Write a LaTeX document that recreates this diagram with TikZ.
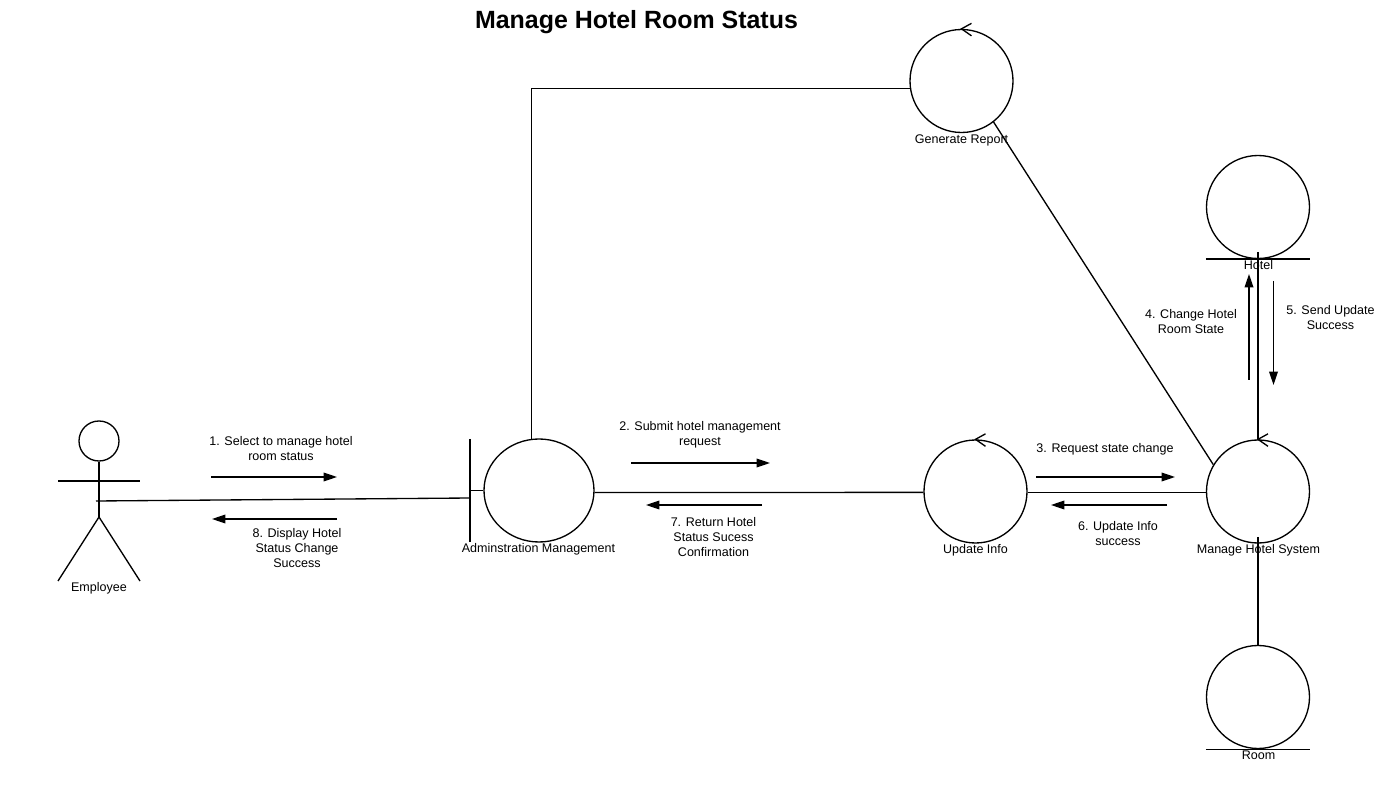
\documentclass[tikz,border=0pt]{standalone}
\usepackage{fontspec}
\setmainfont{Liberation Sans}
\usetikzlibrary{arrows.meta,shapes.geometric}
\def\loopmark#1{\draw ([shift={(10,-5.5)}]#1.north) -- (#1.north) -- ([shift={(10,7)}]#1.north);}
\tikzset{
  lifeline/.style={circle, draw, line width=1pt, minimum size=77.25pt, inner sep=0pt},
  caption/.style={font=\fontsize{9.4pt}{11.25pt}\selectfont, align=center, inner sep=0pt},
  msgarrow/.style={line width=1pt, -{Triangle[length=10pt,width=6.5pt]}},
}

\begin{document}
\begin{tikzpicture}[x=0.75pt, y=-0.75pt, line width=1pt]
                  \useasboundingbox (0,0) rectangle (1386,791);
                  \node[font=\bfseries\fontsize{18.7pt}{23pt}\selectfont, inner sep=0pt] (title) at (636.5,22) {Manage Hotel Room Status};

                  % robustness objects
                  \node[ellipse, draw, line width=1pt, minimum width=82.5pt, minimum height=77.25pt, inner sep=0pt] (admin) at (539,490.5) {};
                  \node[lifeline] (report) at (961.5,81) {};
                  \node[lifeline] (hotel) at (1258,207) {};
                  \node[lifeline] (update) at (975.5,491.5) {};
                  \node[lifeline] (manage) at (1258,491.5) {};
                  \node[lifeline] (room) at (1258,697) {};
                  \foreach \ctrl in {report,update,manage} {\loopmark{\ctrl}}

                  % entity and boundary bars
                  \draw (hotel.west |- hotel.south) -- (hotel.east |- hotel.south);
                  \draw (room.west |- room.south) -- (room.east |- room.south);
                  \coordinate (bartop) at (470,439);
                  \coordinate (barbot) at (470,542);
                  \coordinate (barmid) at (470,498);
                  \draw (bartop) -- (barbot);
                  \draw (bartop |- admin.west) -- (admin.west);

                  % employee
                  \node[circle, draw, line width=1pt, minimum size=30pt, inner sep=0pt] (head) at (99,441) {};
                  \coordinate (hip) at (99,517);
                  \coordinate (armL) at (58,481);
                  \coordinate (armR) at (140,481);
                  \coordinate (footL) at (58,581);
                  \coordinate (footR) at (140,581);
                  \coordinate (empEnd) at (96,501);
                  \draw (head) -- (hip);
                  \draw (armL) -- (armR);
                  \draw (footL) -- (hip) -- (footR);

                  % links
                  \coordinate (hotelEnd) at (1258,252);
                  \coordinate (manageEnd) at (1258,537);
                  \draw (empEnd) -- (barmid);
                  \draw (admin.98) |- (report.188);
                  \draw (admin.-2) -- (update.181);
                  \draw (update.-1) -- (manage.181.5);
                  \draw (report.-52.5) -- (manage.149.5);
                  \draw (hotelEnd) -- (manage.north);
                  \draw (manageEnd) -- (room.north);

                  % messages
                  \foreach \msg/\ax/\ay/\bx/\by in {one/211/477/337/477, eight/337/519/212/519, two/631/463/770/463, seven/762/505/646/505, three/1036/477/1175/477, six/1167/505/1051/505, four/1249/380/1249/274, five/1273.5/281/1273.5/385} {
                    \coordinate (\msg a) at (\ax,\ay);
                    \coordinate (\msg b) at (\bx,\by);
                    \draw[msgarrow] (\msg a) -- (\msg b);
                  }

                  % labels
                  \node[caption] (lblreport) at (961.5,140) {Generate Report};
                  \node[caption] (lblhotel) at (1258.5,265) {Hotel};
                  \node[caption] (lbladmin) at (538.5,549) {Adminstration Management};
                  \node[caption] (lblupdate) at (975.5,550) {Update Info};
                  \node[caption] (lblmanage) at (1258.5,550) {Manage Hotel System};
                  \node[caption] (lblroom) at (1258.5,755) {Room};
                  \node[caption] (lblemp) at (99,588) {Employee};
                  \node[caption] (msgone) at (281,448.5) {1. Select to manage hotel\\room status};
                  \node[caption] (msgtwo) at (700,435) {2. Submit hotel management\\request};
                  \node[caption] (msgthree) at (1105,449) {3. Request state change};
                  \node[caption] (msgfour) at (1191,321.5) {4. Change Hotel\\Room State};
                  \node[caption] (msgfive) at (1330.5,317.5) {5. Send Update\\Success};
                  \node[caption] (msgsix) at (1118,533.5) {6. Update Info\\success};
                  \node[caption] (msgseven) at (713.5,537) {7. Return Hotel\\Status Sucess\\Confirmation};
                  \node[caption] (msgeight) at (297,548) {8. Display Hotel\\Status Change\\Success};
                \end{tikzpicture}
\end{document}
